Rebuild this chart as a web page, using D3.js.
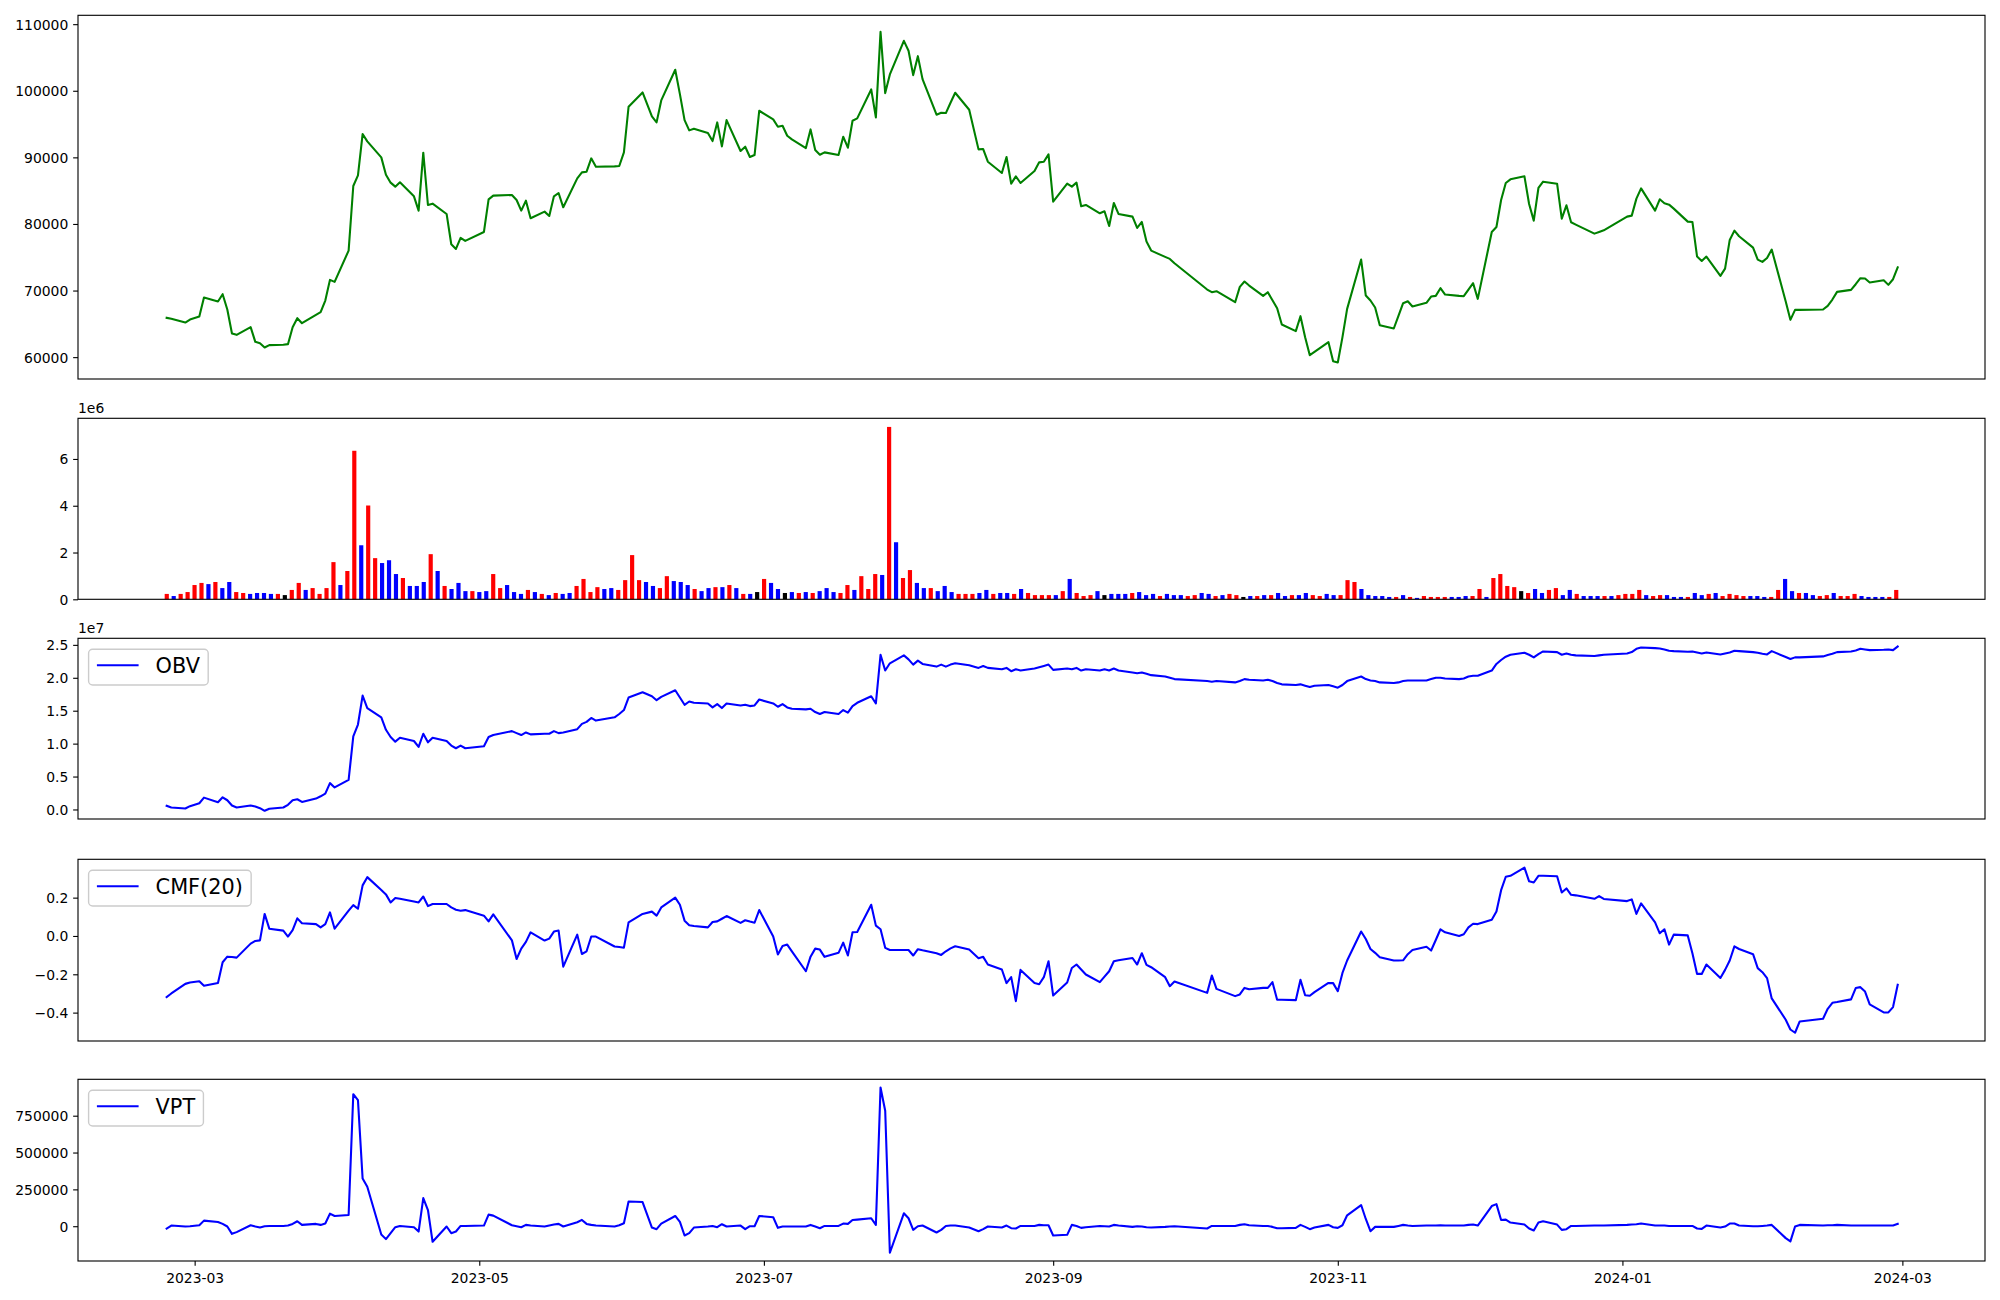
<!DOCTYPE html>
<html><head><meta charset="utf-8">
<script src="https://cdn.jsdelivr.net/npm/d3@7"></script>
<style>
body{margin:0;background:#fff}
svg text{font-family:"DejaVu Sans",sans-serif;fill:#000}
</style>
</head><body>
<svg id="c" width="2000" height="1300"></svg>
<script>
// ---------------- DATA ----------------
const dates = [
"2023-02-23","2023-02-24","2023-02-27","2023-02-28",
"2023-03-02","2023-03-03","2023-03-06","2023-03-07","2023-03-08","2023-03-09","2023-03-10","2023-03-13","2023-03-14","2023-03-15","2023-03-16","2023-03-17","2023-03-20","2023-03-21","2023-03-22","2023-03-23","2023-03-24","2023-03-27","2023-03-28","2023-03-29","2023-03-30","2023-03-31",
"2023-04-03","2023-04-04","2023-04-05","2023-04-06","2023-04-07","2023-04-10","2023-04-11","2023-04-12","2023-04-13","2023-04-14","2023-04-17","2023-04-18","2023-04-19","2023-04-20","2023-04-21","2023-04-24","2023-04-25","2023-04-26","2023-04-27","2023-04-28",
"2023-05-02","2023-05-03","2023-05-04","2023-05-08","2023-05-09","2023-05-10","2023-05-11","2023-05-12","2023-05-15","2023-05-16","2023-05-17","2023-05-18","2023-05-19","2023-05-22","2023-05-23","2023-05-24","2023-05-25","2023-05-26","2023-05-30","2023-05-31",
"2023-06-01","2023-06-02","2023-06-05","2023-06-07","2023-06-08","2023-06-09","2023-06-12","2023-06-13","2023-06-14","2023-06-15","2023-06-16","2023-06-19","2023-06-20","2023-06-21","2023-06-22","2023-06-23","2023-06-26","2023-06-27","2023-06-28","2023-06-29","2023-06-30",
"2023-07-03","2023-07-04","2023-07-05","2023-07-06","2023-07-07","2023-07-10","2023-07-11","2023-07-12","2023-07-13","2023-07-14","2023-07-17","2023-07-18","2023-07-19","2023-07-20","2023-07-21","2023-07-24","2023-07-25","2023-07-26","2023-07-27","2023-07-28","2023-07-31",
"2023-08-01","2023-08-02","2023-08-03","2023-08-04","2023-08-07","2023-08-08","2023-08-09","2023-08-10","2023-08-11","2023-08-14","2023-08-16","2023-08-17","2023-08-18","2023-08-21","2023-08-22","2023-08-23","2023-08-24","2023-08-25","2023-08-28","2023-08-29","2023-08-30","2023-08-31",
"2023-09-01","2023-09-04","2023-09-05","2023-09-06","2023-09-07","2023-09-08","2023-09-11","2023-09-12","2023-09-13","2023-09-14","2023-09-15","2023-09-18","2023-09-19","2023-09-20","2023-09-21","2023-09-22","2023-09-25","2023-09-26","2023-09-27",
"2023-10-04","2023-10-05","2023-10-06","2023-10-10","2023-10-11","2023-10-12","2023-10-13","2023-10-16","2023-10-17","2023-10-18","2023-10-19","2023-10-20","2023-10-23","2023-10-24","2023-10-25","2023-10-26","2023-10-27","2023-10-30","2023-10-31",
"2023-11-01","2023-11-02","2023-11-03","2023-11-06","2023-11-07","2023-11-08","2023-11-09","2023-11-10","2023-11-13","2023-11-14","2023-11-15","2023-11-16","2023-11-17","2023-11-20","2023-11-21","2023-11-22","2023-11-23","2023-11-24","2023-11-27","2023-11-28","2023-11-29","2023-11-30",
"2023-12-01","2023-12-04","2023-12-05","2023-12-06","2023-12-07","2023-12-08","2023-12-11","2023-12-12","2023-12-13","2023-12-14","2023-12-15","2023-12-18","2023-12-19","2023-12-20","2023-12-21","2023-12-22","2023-12-26","2023-12-27","2023-12-28",
"2024-01-02","2024-01-03","2024-01-04","2024-01-05","2024-01-08","2024-01-09","2024-01-10","2024-01-11","2024-01-12","2024-01-15","2024-01-16","2024-01-17","2024-01-18","2024-01-19","2024-01-22","2024-01-23","2024-01-24","2024-01-25","2024-01-26","2024-01-29","2024-01-30","2024-01-31",
"2024-02-01","2024-02-02","2024-02-05","2024-02-06","2024-02-07","2024-02-08","2024-02-13","2024-02-14","2024-02-15","2024-02-16","2024-02-19","2024-02-20","2024-02-21","2024-02-22","2024-02-23","2024-02-26","2024-02-27","2024-02-28","2024-02-29"];

const closePrice = [
65900,65750,65200,65650,
66100,68950,68350,69450,67150,63550,63350,64500,62300,62100,61450,61800,61850,61950,64500,65850,65100,66350,66750,68500,71600,71300,
76000,85700,87300,93500,92400,90000,87400,86200,85600,86250,84150,82000,90700,82850,83050,81500,76950,76250,77900,77450,
78800,83700,84250,84350,83600,82000,83500,80850,81850,81200,84150,84650,82500,86850,87750,87850,89850,88600,88650,88700,
90750,97600,99750,96150,95250,98550,103150,99500,95600,94050,94300,93650,92450,95250,91650,95600,90950,91600,90050,90350,97000,
95700,94600,94750,93250,92700,91400,94200,91100,90400,90750,90350,93100,91450,95500,95850,100200,96000,108850,99650,102450,107500,
106000,102350,105200,101750,96400,96700,96650,98200,99700,97150,91200,91250,89350,87650,90050,86050,87150,86150,87950,89250,89350,90450,
83350,86050,85600,86200,82650,82850,81600,81900,79700,83150,81500,81100,79400,80300,77350,76000,75050,74750,74100,
70150,69750,69900,68250,70550,71350,70750,69200,69750,68550,67350,64900,63900,66150,63000,60300,60800,62250,59400,
59200,63000,67250,74650,69250,68500,67450,64800,64300,66200,68100,68400,67600,68150,69100,69200,70350,69400,69200,69150,70150,71100,
68750,78800,79550,83600,86150,86700,87150,83000,80500,85400,86350,86050,80800,82800,80250,79900,78550,78800,79050,
81100,81250,83800,85350,82000,83700,83100,82900,82300,80350,80300,75100,74450,75100,72200,73300,77600,79000,78150,76450,74650,74300,
74900,76150,68350,65600,67100,67100,67150,67700,68650,69800,70100,70950,71850,71800,71200,71550,70850,71700,73500];

const volume = [
.23e6,.14e6,.23e6,.31e6,
.61e6,.70e6,.65e6,.74e6,.48e6,.74e6,.31e6,.27e6,.23e6,.27e6,.27e6,.23e6,.23e6,.18e6,.40e6,.70e6,.40e6,.48e6,.23e6,.48e6,1.59e6,.61e6,
1.21e6,6.35e6,2.31e6,4.01e6,1.76e6,1.55e6,1.67e6,1.08e6,.91e6,.57e6,.57e6,.74e6,1.93e6,1.21e6,.57e6,.44e6,.70e6,.35e6,.35e6,.31e6,
.35e6,1.08e6,.48e6,.61e6,.31e6,.23e6,.40e6,.31e6,.23e6,.18e6,.27e6,.23e6,.27e6,.57e6,.87e6,.31e6,.52e6,.44e6,.48e6,.40e6,
.82e6,1.89e6,.82e6,.74e6,.57e6,.48e6,.99e6,.78e6,.74e6,.61e6,.44e6,.35e6,.48e6,.52e6,.52e6,.61e6,.48e6,.23e6,.23e6,.31e6,.87e6,
.70e6,.44e6,.27e6,.31e6,.27e6,.31e6,.27e6,.35e6,.48e6,.31e6,.27e6,.61e6,.40e6,.99e6,.44e6,1.08e6,1.04e6,7.37e6,2.44e6,.91e6,1.25e6,
.70e6,.48e6,.48e6,.35e6,.57e6,.31e6,.23e6,.23e6,.23e6,.27e6,.40e6,.23e6,.27e6,.27e6,.23e6,.44e6,.27e6,.18e6,.18e6,.18e6,.18e6,.35e6,
.87e6,.27e6,.14e6,.18e6,.35e6,.18e6,.23e6,.23e6,.23e6,.27e6,.31e6,.18e6,.23e6,.14e6,.23e6,.18e6,.18e6,.14e6,.18e6,
.27e6,.23e6,.14e6,.18e6,.23e6,.18e6,.10e6,.14e6,.14e6,.18e6,.18e6,.27e6,.14e6,.18e6,.18e6,.27e6,.18e6,.14e6,.23e6,
.18e6,.18e6,.82e6,.74e6,.44e6,.18e6,.14e6,.14e6,.10e6,.10e6,.18e6,.10e6,.06e6,.14e6,.10e6,.10e6,.10e6,.10e6,.10e6,.14e6,.14e6,.44e6,
.10e6,.91e6,1.08e6,.57e6,.52e6,.35e6,.27e6,.44e6,.27e6,.40e6,.48e6,.18e6,.40e6,.23e6,.14e6,.14e6,.14e6,.14e6,.14e6,
.18e6,.23e6,.23e6,.40e6,.18e6,.14e6,.18e6,.18e6,.10e6,.10e6,.10e6,.27e6,.18e6,.23e6,.27e6,.14e6,.23e6,.18e6,.14e6,.14e6,.14e6,.10e6,
.10e6,.40e6,.87e6,.35e6,.27e6,.27e6,.18e6,.14e6,.18e6,.27e6,.14e6,.14e6,.23e6,.14e6,.10e6,.10e6,.10e6,.10e6,.40e6];

// candle direction per day: r = up, b = down, k = unchanged
const volDir = (
"rbrr"+
"rrbrbbrrbbbbrkrrbrrrrb"+
"rrbrrbbbrbbbrbrbbbrb"+
"brrbbbrbrbrbbrrrrbbr"+
"rrrbbrrbbbrbbrbrbrbkr"+
"bbkbrbrbbbrrbrrrbrbrr"+
"bbrbbbrrrbbrbbrbrrrrbr"+
"brrrbkbbbrbbbrbbbrr"+
"bbrbrrkbrbrbbrbbrrb"+
"brrrbbbbbrbrbrrrrbbbrr"+
"brrrrkrbbrrbbrbbbrb"+
"rrrrbrrbbbrbbrbrrrrbbb"+
"rrbbrbbrrbrrrbbbbrr").split("");

const obv = [
.055e7,.03e7,.015e7,.05e7,
.095e7,.18e7,.11e7,.185e7,.14e7,.06e7,.03e7,.06e7,.045e7,.02e7,-.02e7,.01e7,.03e7,.07e7,.14e7,.155e7,.115e7,.165e7,.20e7,.24e7,.40e7,.335e7,
.45e7,1.11e7,1.29e7,1.73e7,1.54e7,1.40e7,1.21e7,1.10e7,1.03e7,1.09e7,1.04e7,.95e7,1.15e7,1.02e7,1.09e7,1.04e7,.97e7,.93e7,.97e7,.93e7,
.96e7,1.10e7,1.13e7,1.19e7,1.16e7,1.13e7,1.17e7,1.14e7,1.15e7,1.15e7,1.19e7,1.16e7,1.17e7,1.22e7,1.30e7,1.33e7,1.39e7,1.35e7,1.40e7,1.45e7,
1.51e7,1.70e7,1.78e7,1.72e7,1.66e7,1.71e7,1.81e7,1.70e7,1.59e7,1.64e7,1.62e7,1.61e7,1.55e7,1.60e7,1.54e7,1.61e7,1.58e7,1.59e7,1.57e7,1.58e7,1.67e7,
1.61e7,1.56e7,1.60e7,1.55e7,1.53e7,1.52e7,1.53e7,1.48e7,1.45e7,1.48e7,1.45e7,1.51e7,1.47e7,1.57e7,1.62e7,1.72e7,1.61e7,2.35e7,2.11e7,2.22e7,2.34e7,
2.28e7,2.20e7,2.26e7,2.21e7,2.17e7,2.20e7,2.17e7,2.20e7,2.22e7,2.19e7,2.15e7,2.18e7,2.15e7,2.13e7,2.15e7,2.10e7,2.13e7,2.11e7,2.14e7,2.16e7,2.18e7,2.20e7,
2.12e7,2.14e7,2.13e7,2.15e7,2.11e7,2.13e7,2.11e7,2.13e7,2.11e7,2.14e7,2.11e7,2.08e7,2.07e7,2.08e7,2.06e7,2.04e7,2.02e7,2.00e7,1.98e7,
1.95e7,1.94e7,1.95e7,1.93e7,1.95e7,1.98e7,1.97e7,1.96e7,1.97e7,1.95e7,1.92e7,1.90e7,1.89e7,1.90e7,1.88e7,1.86e7,1.88e7,1.89e7,1.87e7,
1.85e7,1.89e7,1.95e7,2.02e7,1.98e7,1.96e7,1.95e7,1.93e7,1.92e7,1.93e7,1.95e7,1.96e7,1.96e7,1.96e7,1.98e7,2.00e7,2.00e7,1.99e7,1.98e7,1.99e7,2.02e7,2.03e7,
2.03e7,2.11e7,2.21e7,2.27e7,2.32e7,2.35e7,2.38e7,2.35e7,2.31e7,2.36e7,2.40e7,2.39e7,2.35e7,2.37e7,2.35e7,2.34e7,2.33e7,2.34e7,2.35e7,
2.37e7,2.39e7,2.44e7,2.46e7,2.45e7,2.445e7,2.43e7,2.41e7,2.405e7,2.395e7,2.40e7,2.385e7,2.37e7,2.385e7,2.355e7,2.37e7,2.385e7,2.41e7,2.405e7,2.39e7,2.38e7,2.365e7,
2.355e7,2.405e7,2.315e7,2.285e7,2.31e7,2.31e7,2.325e7,2.345e7,2.365e7,2.39e7,2.40e7,2.415e7,2.44e7,2.43e7,2.42e7,2.425e7,2.43e7,2.42e7,2.475e7];

const cmf = [
-.319,-.30,-.25,-.243,
-.236,-.26,-.245,-.137,-.108,-.11,-.113,-.04,-.026,-.023,.115,.038,.028,-.003,.031,.092,.066,.062,.045,.062,.123,.038,
.132,.161,.142,.264,.307,.24,.217,.175,.198,.194,.18,.175,.206,.156,.167,.167,.149,.137,.132,.135,
.106,.076,.113,-.023,-.12,-.066,-.031,.019,-.024,-.014,.023,.028,-.16,.007,-.094,-.08,-.003,-.003,-.055,-.058,
-.061,.071,.115,.127,.106,.149,.2,.163,.08,.056,.052,.045,.073,.076,.09,.104,.068,.082,.075,.069,.135,
-.003,-.097,-.052,-.045,-.08,-.184,-.108,-.066,-.071,-.109,-.088,-.035,-.102,.019,.021,.163,.054,.035,-.062,-.073,-.073,
-.073,-.102,-.069,-.075,-.09,-.099,-.08,-.065,-.054,-.071,-.116,-.109,-.149,-.175,-.246,-.215,-.34,-.177,-.246,-.252,-.215,-.132,
-.311,-.243,-.167,-.149,-.175,-.201,-.241,-.212,-.184,-.132,-.127,-.115,-.149,-.09,-.151,-.163,-.215,-.262,-.238,
-.297,-.206,-.276,-.314,-.305,-.271,-.278,-.271,-.271,-.241,-.333,-.333,-.335,-.229,-.309,-.312,-.293,-.245,-.246,
-.288,-.193,-.128,.023,-.016,-.068,-.088,-.111,-.128,-.128,-.127,-.095,-.073,-.056,-.076,-.021,.035,.019,0,.009,.045,.064,
.062,.085,.128,.239,.309,.314,.357,.285,.279,.314,.314,.312,.227,.248,.215,.212,.194,.208,.193,
.182,.191,.115,.17,.071,.014,.035,-.045,.007,.003,-.09,-.198,-.198,-.149,-.219,-.177,-.128,-.054,-.068,-.095,-.168,-.189,
-.22,-.326,-.437,-.488,-.505,-.446,-.432,-.38,-.349,-.345,-.331,-.272,-.267,-.29,-.357,-.399,-.399,-.371,-.255];

const vpt = [
-15700,4500,-2000,0,
6700,38000,29000,15700,-2000,-51700,-40000,6700,-2000,-9000,0,2000,2000,4500,15700,33700,9000,15700,9000,18000,85300,69600,
76400,896000,855700,323400,267300,-56000,-87600,-47000,-6700,2000,-6700,-36000,191000,110000,-105600,-2000,-47000,-36000,2000,2000,
4500,78600,71900,6700,0,-6700,9000,4500,-2000,4500,11200,15700,-2000,27000,42700,15700,9000,4500,-2000,6700,
20000,168000,164000,-9000,-20000,18000,69600,29000,-63000,-47000,-9000,-2000,2000,-6700,13500,-2000,4500,-20000,0,0,69600,
60600,-11200,-2000,-2000,-2000,-2000,9000,-2000,-13500,2000,2000,18000,15700,42700,45000,54000,9000,941000,784000,-180000,87600,
54000,-24700,0,4500,-42700,-24700,2000,4500,4500,-9000,-33700,-20000,-2000,-9000,4500,-13500,-15700,2000,2000,9000,6700,6700,
-63000,-58400,9000,2000,-11200,-6700,2000,0,-2000,9000,4500,-4500,0,-2000,-6700,-9000,-4500,-2000,0,
-15700,2000,2000,2000,9000,13500,6700,2000,2000,-4500,-13500,-13500,-11200,9000,-4500,-20000,-9000,9000,-6700,
-11200,6700,74000,143700,49000,-33700,-4500,-4500,-4500,2000,9000,4500,2000,4500,4500,4500,6700,4500,4500,4500,9000,11200,
4500,137000,150000,42700,45000,24700,11200,-15700,-29000,24700,33700,11200,-24700,-20000,2000,2000,4500,4500,4500,
9000,11200,13500,18000,4500,4500,4500,2000,2000,2000,2000,-15700,-18000,4500,-9000,-2000,18000,18000,4500,0,0,2000,
4500,9000,-80800,-103000,-2000,9000,4500,6700,6700,9000,4500,4500,4500,4500,4500,4500,4500,4500,15700];

const priceTicks = [60000,70000,80000,90000,100000,110000];
const volTicks = [0,2e6,4e6,6e6];
const obvTicks = [0,0.5e7,1.0e7,1.5e7,2.0e7,2.5e7];
const cmfTicks = [-0.4,-0.2,0.0,0.2];
const vptTicks = [0,250000,500000,750000];
const dateTicks = ["2023-03-01","2023-05-01","2023-07-01","2023-09-01","2023-11-01","2024-01-01","2024-03-01"];
const legendLabels = {obv:"OBV", cmf:"CMF(20)", vpt:"VPT"};

// ---------------- LAYOUT ----------------
const L = 78, R = 1985;
const P = {
  price:[15.3,379], vol:[418.3,599.3], obv:[638.3,819], cmf:[859.3,1041], vpt:[1079.3,1261]
};
const FS = "13.9px";
const PT = 100/72;            // 1pt in px at 100 dpi
const TICK = 3.5*PT, LW = 1.5*PT, SPINE = 0.8*PT;
const svg = d3.select("#c");
const parse = d3.utcParse("%Y-%m-%d");
const T = dates.map(parse);

const x = d3.scaleUtc()
  .domain([Date.UTC(2023,1,4,0), Date.UTC(2024,2,18,17)])
  .range([L,R]);

function padded(vals){
  const [a,b] = d3.extent(vals); const p=(b-a)*0.05; return [a-p,b+p];
}
function yAxis(y, ticks, fmt){
  const ax = d3.axisLeft(y).tickValues(ticks).tickFormat(fmt).tickSize(TICK).tickPadding(TICK);
  const a = svg.append("g").attr("transform",`translate(${L},0)`).call(ax);
  a.select(".domain").remove();
  a.selectAll("line").attr("stroke","#000").attr("stroke-width",SPINE);
  a.selectAll("text").style("font-size",FS).attr("dy","0.36em");
}
function frame(p){
  svg.append("rect").attr("x",L).attr("y",P[p][0]).attr("width",R-L).attr("height",P[p][1]-P[p][0])
    .attr("fill","none").attr("stroke","#000").attr("stroke-width",SPINE);
}
function line(vals, y, color){
  svg.append("path").datum(vals)
    .attr("d", d3.line().x((d,i)=>x(T[i])).y(d=>y(d)))
    .attr("fill","none").attr("stroke",color).attr("stroke-width",LW)
    .attr("stroke-linejoin","round").attr("stroke-linecap","square");
}
function legend(p, label){
  const bx = L + 10.6, by = P[p][0] + 11;
  const g = svg.append("g");
  const rect = g.append("rect");
  g.append("line").attr("x1",bx+8.3).attr("x2",bx+50).attr("y1",by+16).attr("y2",by+16)
    .attr("stroke","blue").attr("stroke-width",LW);
  const t = g.append("text").attr("x",bx+67).attr("y",by+23.4).style("font-size","20.83px").text(label);
  const tw = t.node().getComputedTextLength();
  rect.attr("x",bx).attr("y",by).attr("width",67+tw+8.3).attr("height",35.7).attr("rx",4)
    .attr("fill","#fff").attr("fill-opacity",0.8).attr("stroke","#cccccc").attr("stroke-width",PT);
}
function offsetText(p, s){
  svg.append("text").attr("x",L).attr("y",P[p][0]-5).style("font-size",FS).text(s);
}

// ---- Panel 1: price ----
const yP = d3.scaleLinear().domain(padded(closePrice)).range([P.price[1],P.price[0]]);
line(closePrice, yP, "green");
yAxis(yP, priceTicks, d3.format("d"));
frame("price");

// ---- Panel 2: volume bars (index positions) ----
const bw = 0.6;
const n = volume.length;
const padV = 0.05*((n-1)+bw);
const xv = d3.scaleLinear().domain([-bw/2-padV, (n-1)+bw/2+padV]).range([L,R]);
const yV = d3.scaleLinear().domain([0, d3.max(volume)*1.05]).range([P.vol[1],P.vol[0]]);
const colorOf = {r:"red", b:"blue", k:"black"};
svg.append("g").selectAll("rect").data(volume).join("rect")
  .attr("x",(d,i)=>xv(i-bw/2)).attr("width",xv(bw)-xv(0))
  .attr("y",d=>yV(d)).attr("height",d=>yV(0)-yV(d))
  .attr("fill",(d,i)=>colorOf[volDir[i]]);
yAxis(yV, volTicks, d=>d3.format("d")(d/1e6));
offsetText("vol","1e6");
frame("vol");

// ---- Panel 3: OBV ----
const yO = d3.scaleLinear().domain(padded(obv)).range([P.obv[1],P.obv[0]]);
line(obv, yO, "blue");
yAxis(yO, obvTicks, d=>d3.format(".1f")(d/1e7));
offsetText("obv","1e7");
frame("obv");
legend("obv", legendLabels.obv);

// ---- Panel 4: CMF ----
const yC = d3.scaleLinear().domain(padded(cmf)).range([P.cmf[1],P.cmf[0]]);
line(cmf, yC, "blue");
yAxis(yC, cmfTicks, d3.format(".1f"));
frame("cmf");
legend("cmf", legendLabels.cmf);

// ---- Panel 5: VPT ----
const yT = d3.scaleLinear().domain(padded(vpt)).range([P.vpt[1],P.vpt[0]]);
line(vpt, yT, "blue");
yAxis(yT, vptTicks, d3.format("d"));
const xa = d3.axisBottom(x).tickValues(dateTicks.map(parse)).tickFormat(d3.utcFormat("%Y-%m"))
  .tickSize(TICK).tickPadding(TICK);
const xg = svg.append("g").attr("transform",`translate(0,${P.vpt[1]})`).call(xa);
xg.select(".domain").remove();
xg.selectAll("line").attr("stroke","#000").attr("stroke-width",SPINE);
xg.selectAll("text").style("font-size",FS).attr("dy","0.9em");
frame("vpt");
legend("vpt", legendLabels.vpt);

if ([closePrice,volume,volDir,obv,cmf,vpt].some(a=>a.length!==dates.length))
  console.error("length mismatch", dates.length, closePrice.length, volume.length, volDir.length, obv.length, cmf.length, vpt.length);
</script>
</body></html>
